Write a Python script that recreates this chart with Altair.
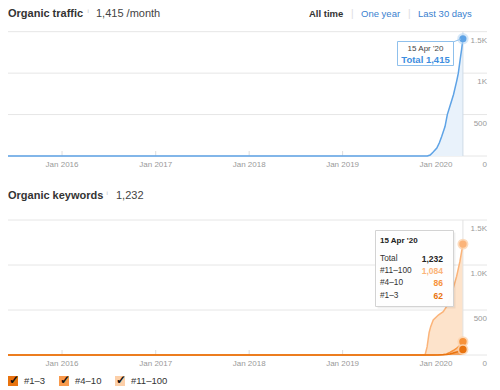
import altair as alt
import pandas as pd

# ---------------- data ----------------
traffic_dates = ["2015-06-04", "2019-11-28", "2019-12-09", "2019-12-20", "2020-01-04",
                 "2020-01-14", "2020-01-23", "2020-02-05", "2020-02-14", "2020-02-25",
                 "2020-03-09", "2020-03-22", "2020-03-28", "2020-04-04", "2020-04-10",
                 "2020-04-15"]
traffic_values = [0, 0, 12, 45, 95, 160, 235, 355, 500, 610, 740, 910, 1000, 1160, 1290, 1415]

kw_dates = ["2015-06-04", "2019-11-19", "2019-11-27", "2019-12-05", "2019-12-11",
            "2019-12-21", "2020-01-10", "2020-01-29", "2020-02-11", "2020-02-24",
            "2020-03-08", "2020-03-21", "2020-04-03", "2020-04-15"]
kw_top3 = [0, 0, 0, 0, 0, 0, 1, 3, 5, 12, 22, 33, 45, 62]
kw_4_10 = [0, 0, 0, 0, 0, 0, 1, 3, 7, 18, 28, 42, 60, 86]
kw_11_100 = [0, 0, 90, 250, 315, 389, 442, 475, 525, 600, 690, 795, 932, 1084]

kw_categories = ["#1–3", "#4–10", "#11–100"]

x_tick_dates = ["2016-01-01", "2017-01-01", "2018-01-01", "2019-01-01", "2020-01-01"]
x_tick_labels = ["Jan 2016", "Jan 2017", "Jan 2018", "Jan 2019", "Jan 2020"]
y_ticks = [0, 500, 1000, 1500]
traffic_y_labels = ["0", "500", "1K", "1.5K"]
kw_y_labels = ["0", "500", "1.0K", "1.5K"]

header_top = ["Organic traffic", "1,415 /month"]
header_kw = ["Organic keywords", "1,232"]
range_buttons = ["All time", "One year", "Last 30 days"]
tip_date = "15 Apr '20"
tip_traffic = "Total 1,415"
tip_kw_rows = ["Total", "#11–100", "#4–10", "#1–3"]
tip_kw_vals = ["1,232", "1,084", "86", "62"]

# ---------------- styles ----------------
FONT = "Liberation Sans"
BLUE_LINE = "#5ea3e6"
BLUE_FILL = "#e9f2fb"
OR1 = "#e8730f"   # #1-3
OR2 = "#f7923a"   # #4-10
OR3 = "#fbb47a"   # #11-100
GRID = "#e6e6e6"
LABEL = "#9a9a9a"

xs = alt.Scale(domain=[alt.DateTime(year=2015, month=6, date=4, utc=True),
                       alt.DateTime(year=2020, month=7, date=18, utc=True)],
               range=[0, 479], nice=False)
ys_t = alt.Scale(domain=[0, 1500], range=[148, 23.7], nice=False)
ys_k = alt.Scale(domain=[0, 1500], range=[347, 212], nice=False)

X = alt.X("date:T", scale=xs, axis=None)

tdf = pd.DataFrame({"date": traffic_dates, "value": traffic_values})
kdf = pd.DataFrame({"date": kw_dates, "a": kw_top3, "b": kw_4_10, "c": kw_11_100})
kdf["c1"] = kdf["a"]
kdf["c2"] = kdf["a"] + kdf["b"]
kdf["c3"] = kdf["a"] + kdf["b"] + kdf["c"]
kdf["zero"] = 0
xt = pd.DataFrame({"date": x_tick_dates, "label": x_tick_labels})
yt_t = pd.DataFrame({"v": y_ticks, "label": traffic_y_labels})
yt_k = pd.DataFrame({"v": y_ticks, "label": kw_y_labels})
last_t = tdf.tail(1)
last_k = kdf.tail(1)


def txt(text, x, y, size, color, weight="normal", align="left", dy=0):
    return alt.Chart(pd.DataFrame({"t": [text]})).mark_text(
        align=align, baseline="middle", fontSize=size, color=color,
        fontWeight=weight, font=FONT, dy=dy
    ).encode(x=alt.value(x), y=alt.value(y), text="t:N")


def panel(ys, yt, base_y, y_top, y_bottom):
    grid = alt.Chart(yt).mark_rule(color=GRID, strokeWidth=1).encode(
        y=alt.Y("v:Q", scale=ys, axis=None), x=alt.value(0), x2=alt.value(479))
    ylab = alt.Chart(yt).mark_text(align="right", baseline="middle", dy=9,
                                   fontSize=8, color=LABEL, font=FONT).encode(
        y=alt.Y("v:Q", scale=ys, axis=None), x=alt.value(479), text="label:N")
    ticks = alt.Chart(xt).mark_rule(color="#dddddd").encode(
        x=X, y=alt.value(y_bottom - 5), y2=alt.value(y_bottom))
    xlab = alt.Chart(xt).mark_text(baseline="middle", fontSize=8, color=LABEL, font=FONT).encode(
        x=X, text="label:N", y=alt.value(y_bottom + 9))
    return [grid, ticks, ylab, xlab]


layers = []
# ---- traffic panel ----
layers += panel(ys_t, yt_t, 0, 23.7, 148)
layers.append(alt.Chart(tdf).mark_area(color=BLUE_FILL, opacity=1).encode(
    x=X, y=alt.Y("value:Q", scale=ys_t, axis=None)))
layers.append(alt.Chart(last_t).mark_rule(color="#cfdbe7").encode(
    x=X, y=alt.value(23.7), y2=alt.value(148)))
layers.append(alt.Chart(tdf).mark_line(color=BLUE_LINE, strokeWidth=1.5).encode(
    x=X, y=alt.Y("value:Q", scale=ys_t, axis=None)))
layers.append(alt.Chart(last_t).mark_circle(color="#b9d7f4", opacity=0.6, size=130).encode(
    x=X, y=alt.Y("value:Q", scale=ys_t, axis=None)))
layers.append(alt.Chart(last_t).mark_circle(color=BLUE_LINE, opacity=1, size=50).encode(
    x=X, y=alt.Y("value:Q", scale=ys_t, axis=None)))
# tooltip traffic
layers.append(alt.Chart(last_t).mark_rule(color="#8fc0ec").encode(
    x=alt.value(445), x2=alt.value(453), y=alt.value(34), y2=alt.value(31)))
layers.append(alt.Chart(last_t).mark_rect(fill="white", stroke="#8fc0ec", strokeWidth=1).encode(
    x=alt.value(389.5), x2=alt.value(445.5), y=alt.value(33.5), y2=alt.value(57.5)))
layers.append(txt(tip_date, 417.5, 40.5, 8, "#444", align="center"))
layers.append(txt(tip_traffic, 417.5, 51.5, 9.5, "#3d8ee0", weight="bold", align="center"))

# ---- keywords panel ----
layers += panel(ys_k, yt_k, 0, 212, 347)
layers.append(alt.Chart(kdf).mark_area(color="#fde3cb", opacity=1).encode(
    x=X, y=alt.Y("c3:Q", scale=ys_k, axis=None), y2="c2:Q"))
layers.append(alt.Chart(kdf).mark_area(color="#fbc497", opacity=1).encode(
    x=X, y=alt.Y("c2:Q", scale=ys_k, axis=None), y2="c1:Q"))
layers.append(alt.Chart(kdf).mark_area(color="#f3a25f", opacity=1).encode(
    x=X, y=alt.Y("c1:Q", scale=ys_k, axis=None), y2="zero:Q"))
layers.append(alt.Chart(last_k).mark_rule(color="#e2e2e2").encode(
    x=X, y=alt.value(212), y2=alt.value(347)))
for col, colr in [("c3", OR3), ("c2", OR2), ("c1", OR1)]:
    layers.append(alt.Chart(kdf).mark_line(color=colr, strokeWidth=1.5).encode(
        x=X, y=alt.Y(f"{col}:Q", scale=ys_k, axis=None)))
for col, colr in [("c3", OR3), ("c2", OR2), ("c1", OR1)]:
    layers.append(alt.Chart(last_k).mark_circle(color="#fbd2ad", opacity=0.8, size=120).encode(
        x=X, y=alt.Y(f"{col}:Q", scale=ys_k, axis=None)))
    layers.append(alt.Chart(last_k).mark_circle(color=colr, opacity=1, size=55).encode(
        x=X, y=alt.Y(f"{col}:Q", scale=ys_k, axis=None)))
# tooltip keywords
layers.append(alt.Chart(last_k).mark_rect(fill="#000000", opacity=0.06).encode(
    x=alt.value(369.5), x2=alt.value(447.5), y=alt.value(224.5), y2=alt.value(300.5)))
layers.append(alt.Chart(last_k).mark_rect(fill="white", stroke="#d2d2d2", strokeWidth=1, opacity=0.96).encode(
    x=alt.value(367.5), x2=alt.value(445.5), y=alt.value(222.5), y2=alt.value(298.5)))
layers.append(txt(tip_date, 372, 233, 8, "#222", weight="bold"))
row_y = [251, 263, 275.3, 287.7]
row_col = ["#222", OR3, OR2, OR1]
for lab, val, yy, cc in zip(tip_kw_rows, tip_kw_vals, row_y, row_col):
    layers.append(txt(lab, 372, yy, 8.3, "#333"))
    layers.append(txt(val, 435, yy, 8.5, cc, weight="bold", align="right"))

# ---- headers ----
layers.append(txt(header_top[0], 0, 6, 11, "#333", weight="bold"))
layers.append(txt("i", 79.5, 3, 6, "#bbbbbb"))
layers.append(txt(header_top[1], 88, 6, 11, "#444"))
layers.append(txt(range_buttons[0], 301, 6, 9.5, "#333", weight="bold"))
layers.append(txt("|", 343, 6, 10, "#dddddd"))
layers.append(txt(range_buttons[1], 353, 6, 9.5, "#3a7fcf"))
layers.append(txt("|", 400, 6, 10, "#dddddd"))
layers.append(txt(range_buttons[2], 410, 6, 9.5, "#3a7fcf"))

layers.append(txt(header_kw[0], 0, 188, 11, "#333", weight="bold"))
layers.append(txt("i", 98.5, 185, 6, "#bbbbbb"))
layers.append(txt(header_kw[1], 108, 188, 11, "#444"))

# ---- legend ----
leg_x = [5, 56, 112]
leg_fill = [OR1, "#f99a4c", "#fccfa8"]
for cat, lx, lf in zip(kw_categories, leg_x, leg_fill):
    layers.append(alt.Chart(pd.DataFrame({"t": [cat]})).mark_square(
        color=lf, opacity=1, size=100).encode(x=alt.value(lx), y=alt.value(373)))
    layers.append(txt("✓", lx + 1, 371.5, 12, "#111111", weight="bold", align="center"))
    layers.append(txt(cat, lx + 11, 373, 9.5, "#333"))

chart = alt.layer(*layers).resolve_scale(y="independent").properties(
    width=484, height=382, autosize=alt.AutoSizeParams(type="none"), padding=0,
    background="white"
).configure_view(stroke=None)

chart.save("out.html", embed_options={"renderer": "svg", "actions": False})
